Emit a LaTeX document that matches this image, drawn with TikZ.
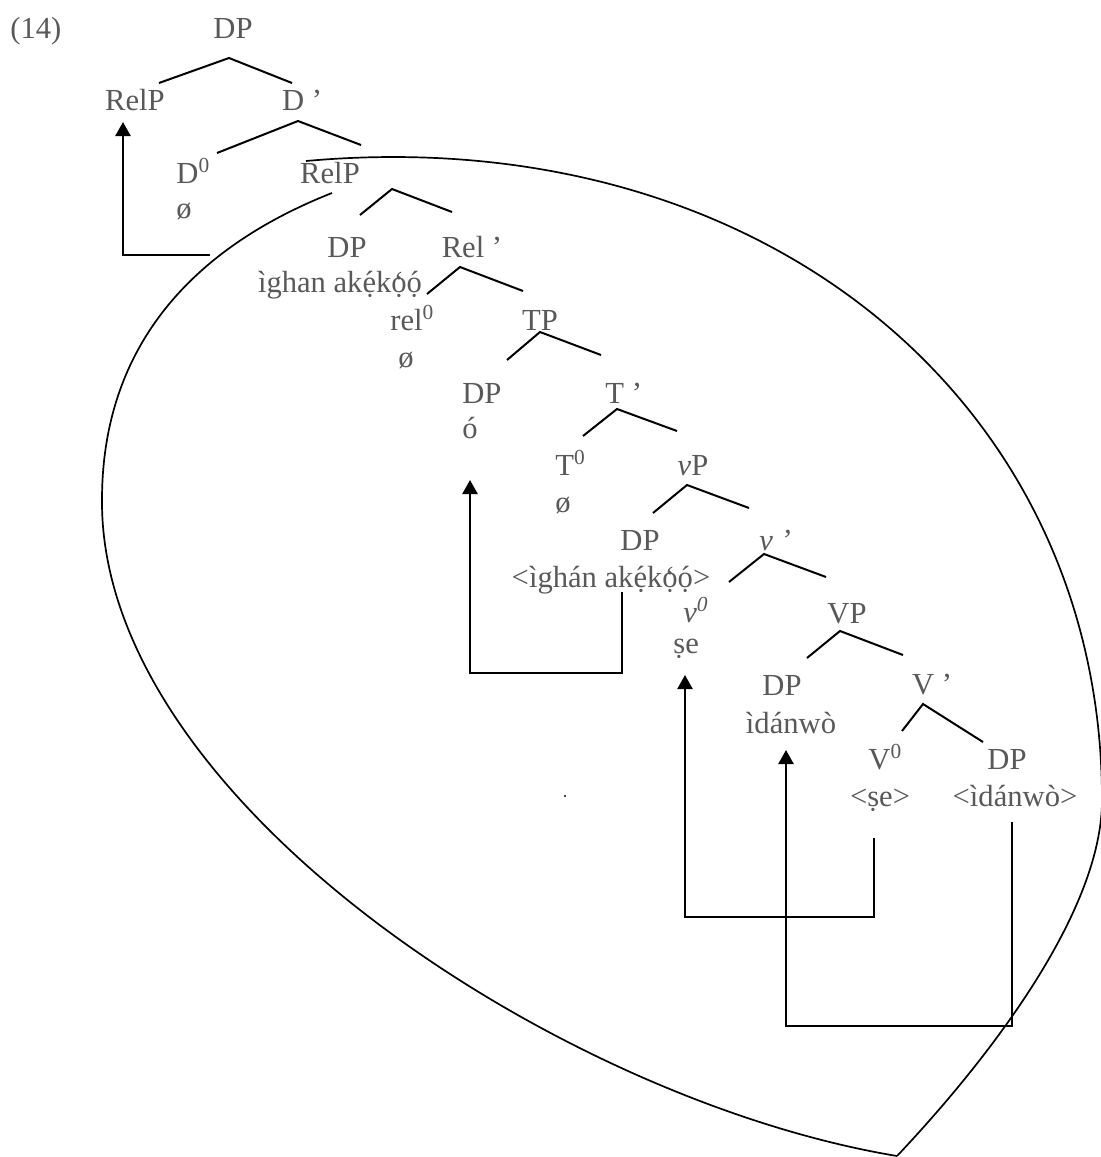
\documentclass[tikz,border=0pt]{standalone}
\usepackage{fontspec}
\setmainfont{Liberation Serif}
\usepackage{tikz}
\usetikzlibrary{arrows.meta,calc}
\definecolor{Label}{HTML}{595959}
\definecolor{Ink}{HTML}{000000}
\newcommand{\toneH}[1]{\accent"B4 #1}
\newcommand{\toneL}[1]{\accent"60 #1}

\begin{document}
\begin{tikzpicture}[
  x=0.5pt,y=-0.5pt,
  lbl/.style={anchor=base,inner sep=0pt,text=Label,font=\fontsize{15.3}{18}\selectfont},
  lblw/.style={lbl,anchor=base west},
  branch/.style={line width=1pt,draw=Ink},
  move/.style={-{Triangle[width=7.5pt,length=7pt]},line width=1.25pt,draw=Ink},
  lasso/.style={line width=0.85pt,draw=Ink}
]
  \path[use as bounding box,fill=white] (0,0) rectangle (1101,1157);

  % labels of the tree
  \node[lblw] (num) at (10,38) {(14)};
  \node[lbl] (dp0) at (233,38) {DP};
  \node[lbl] (relp1) at (135,110) {RelP};
  \node[lbl] (dbar) at (302,110) {D ’};
  \node[lblw] (d0) at (176,183) {D\textsuperscript{0}};
  \node[lblw] (dnull) at (176,218) {ø};
  \node[lbl] (relp2) at (330,183) {RelP};
  \node[lbl] (dp1) at (347,257) {DP};
  \node[lbl] (ighan1) at (340,292) {ìghan ak\toneH{ẹ}k\toneL{ọ}\toneH{ọ}};
  \node[lbl] (relbar) at (472,257) {Rel ’};
  \node[lblw] (rel0) at (390,330) {rel\textsuperscript{0}};
  \node[lblw] (relnull) at (398,367) {ø};
  \node[lbl] (tp) at (540,330) {TP};
  \node[lblw] (dp2) at (462,403) {DP};
  \node[lblw] (o2) at (462,438) {ó};
  \node[lblw] (tbar) at (605,403) {T ’};
  \node[lblw] (t0) at (555,475) {T\textsuperscript{0}};
  \node[lblw] (tnull) at (555,512) {ø};
  \node[lbl] (vp) at (693,475) {\textit{v}P};
  \node[lbl] (dp3) at (640,550) {DP};
  \node[lbl] (ighan3) at (611,587) {<ìghán ak\toneH{ẹ}k\toneL{ọ}\toneH{ọ}>};
  \node[lbl] (vbar) at (775,550) {\textit{v ’}};
  \node[lblw] (v0) at (683,622) {\textit{v\textsuperscript{0}}};
  \node[lblw] (se) at (673,653) {ṣe};
  \node[lbl] (bigvp) at (847,623) {VP};
  \node[lbl] (dp4) at (782,695) {DP};
  \node[lbl] (idan4) at (791,733) {ìdánwò};
  \node[lbl] (bigvbar) at (932,694) {V ’};
  \node[lblw] (bigv0) at (868,769) {V\textsuperscript{0}};
  \node[lbl] (setrace) at (880,806) {<ṣe>};
  \node[lbl] (dp5) at (1007,769) {DP};
  \node[lbl] (idan5) at (1015,806) {<ìdánwò>};

  % branches
  \draw[branch] ($(dp0.base)+(-74,45)$) -- ($(dp0.base)+(-4,20)$) -- ($(dp0.base)+(59,45)$);
  \draw[branch] ($(dbar.base)+(-85,43)$) -- ($(dbar.base)+(-4,11)$) -- ($(dbar.base)+(59,35)$);
  \draw[branch] ($(relp2.base)+(30,32)$) -- ($(relp2.base)+(62,6)$) -- ($(relp2.base)+(122,29)$);
  \draw[branch] ($(relbar.base)+(-45,37)$) -- ($(relbar.base)+(-12,10)$) -- ($(relbar.base)+(51,34)$);
  \draw[branch] ($(tp.base)+(-33,30)$) -- ($(tp.base)+(0,2)$) -- ($(tp.base)+(61,25)$);
  \draw[branch] ($(tbar.base west)+(-22,33)$) -- ($(tbar.base west)+(12,6)$) -- ($(tbar.base west)+(72,28)$);
  \draw[branch] ($(vp.base)+(-40,38)$) -- ($(vp.base)+(-6,10)$) -- ($(vp.base)+(56,33)$);
  \draw[branch] ($(vbar.base)+(-46,32)$) -- ($(vbar.base)+(-11,4)$) -- ($(vbar.base)+(51,27)$);
  \draw[branch] ($(bigvp.base)+(-40,35)$) -- ($(bigvp.base)+(-7,8)$) -- ($(bigvp.base)+(56,32)$);
  \draw[branch] ($(bigvbar.base)+(-30,37)$) -- ($(bigvbar.base)+(-9,10)$) -- ($(bigvbar.base)+(51,48)$);

  % the loop round the lower RelP
  \draw[lasso] (332,193) .. controls (200,245) and (102,340) .. (102,500)
    .. controls (100,800) and (560,1100) .. (897,1156);
  \draw[lasso] (897,1156) .. controls (950,1100) and (1102,930) .. (1102,800)
    .. controls (1102,400) and (760,120) .. (306,161);
  \fill[Ink] (565,796) circle (0.6pt);

  % movement
  \coordinate (lassoL) at (210,255);
  \draw[move] (lassoL) -| ($(relp1.base)+(-12,12)$);
  \draw[move] ($(ighan3.base)+(11,5)$) -- ++(0,81) -| ($(o2.base west)+(8,42)$);
  \draw[move] ($(setrace.base)+(-6,32)$) -- ++(0,79) -| ($(se.base west)+(12,22)$);
  \draw[move] ($(idan5.base)+(-3,16)$) -- ++(0,204) -| ($(idan4.base)+(-5,17)$);
\end{tikzpicture}
\end{document}
